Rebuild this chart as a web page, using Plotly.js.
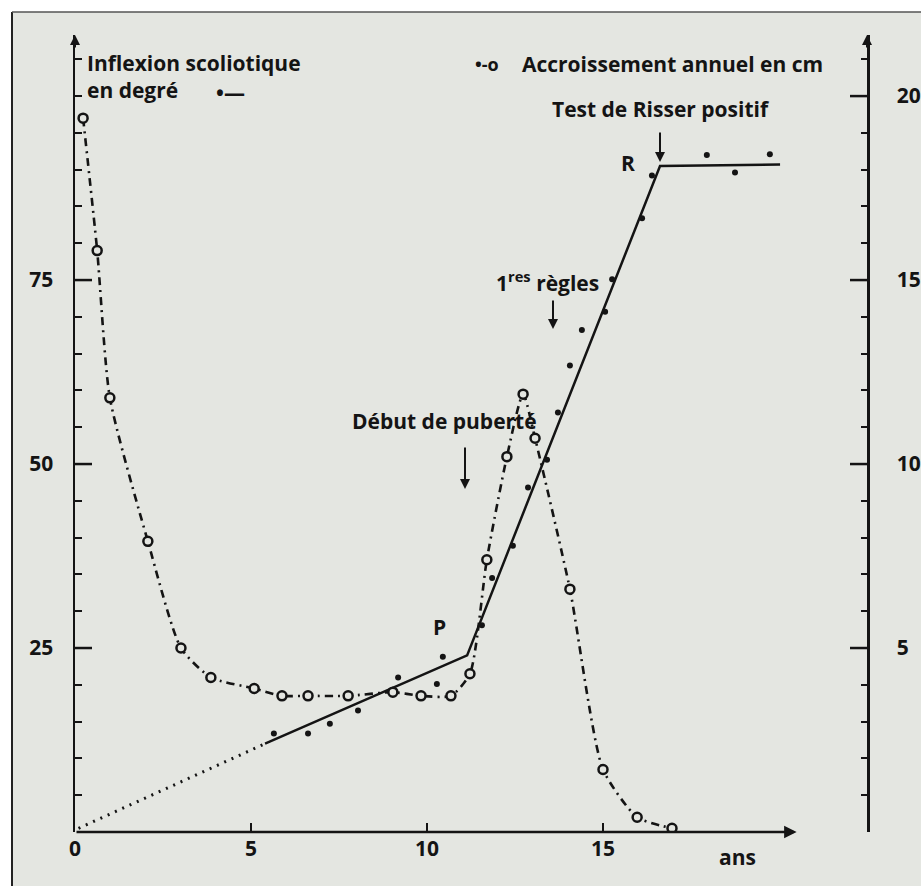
<!DOCTYPE html>
<html>
<head>
<meta charset="utf-8">
<script src="https://cdn.plot.ly/plotly-3.0.1.min.js"></script>
<style>html,body{margin:0;padding:0;background:#fff;}#chart{width:921px;height:886px;}</style>
</head>
<body>
<div id="chart"></div>
<script>
// ---- data ----
// Annual growth (cm/year), right axis
const growthYears = [0.23,0.63,0.99,2.07,3.01,3.86,5.09,5.88,6.62,7.76,9.03,9.83,10.68,11.22,11.70,12.27,12.73,13.07,14.06,15.0,15.97,16.96];
const growthCm    = [19.4,15.8,11.8,7.9,5.0,4.2,3.9,3.7,3.7,3.7,3.8,3.7,3.7,4.3,7.4,10.2,11.9,10.7,6.6,1.7,0.4,0.1];
// Scoliotic curve (degrees), left axis: measured points
const scolYears = [5.65,6.62,7.24,8.04,9.18,10.28,10.45,11.56,11.85,12.44,12.87,13.41,13.72,14.06,14.40,15.06,15.26,16.11,16.39,17.95,18.75,19.74];
const scolDeg   = [13.4,13.4,14.7,16.5,21.0,20.1,23.8,28.1,34.5,38.9,46.8,50.6,57.0,63.4,68.2,70.7,75.1,83.4,89.2,92.0,89.6,92.1];
// Scoliotic trend: extrapolated (dotted) and fitted (solid, P then R)
const trendDottedYears = [0.1, 5.4];
const trendDottedDeg   = [0.5, 12.0];
const trendSolidYears  = [5.4, 11.14, 16.62, 20.03];
const trendSolidDeg    = [12.0, 24.0, 90.5, 90.7];
// tick labels
const xTicks = [0, 5, 10, 15];
const yLeftTicks = [25, 50, 75];
const yRightTicks = [5, 10, 15, 20];

const INK = '#141414';
const BG = '#e4e6e1';
const FONT = {family: 'Open Sans, sans-serif', size: 21, color: INK, weight: 'bold'};

// plot area geometry (pixels)
const W = 921, H = 886, L = 75, R = 54, T = 35, B = 54;
const pw = W - L - R, ph = H - T - B;
const px = v => (v - L) / pw;           // pixel x -> paper x
const py = v => (H - B - v) / ph;       // pixel y -> paper y

const traces = [
  {x: trendDottedYears, y: trendDottedDeg, mode: 'lines', yaxis: 'y',
   line: {color: INK, width: 3, dash: '2px,6px'}, hoverinfo: 'skip'},
  {x: trendSolidYears, y: trendSolidDeg, mode: 'lines', yaxis: 'y',
   line: {color: INK, width: 2.5}, hoverinfo: 'skip'},
  {x: scolYears, y: scolDeg, mode: 'markers', yaxis: 'y',
   marker: {color: INK, size: 6}},
  {x: growthYears, y: growthCm, mode: 'lines+markers', yaxis: 'y2',
   line: {color: INK, width: 2.6, dash: '8px,5px,2px,5px', shape: 'spline', smoothing: 0.6},
   marker: {symbol: 'circle', size: 9, color: BG, line: {color: INK, width: 2.5}}}
];

const annFont = Object.assign({}, FONT);
function txt(text, x, y, xanchor, opts) {
  return Object.assign({text: text, xref: 'paper', yref: 'paper', x: px(x), y: py(y),
    xanchor: xanchor || 'left', yanchor: 'middle', showarrow: false, font: annFont}, opts || {});
}
function downArrow(xp, y0, y1) {
  return {xref: 'paper', yref: 'paper', x: px(xp), y: py(y1), ax: 0, ay: -(y1 - y0),
    showarrow: true, arrowhead: 2, arrowsize: 1, arrowwidth: 2, arrowcolor: INK, text: ''};
}

const annotations = [
  txt('Inflexion scoliotique<br>en degré', 85, 76, 'left', {align: 'left'}),
  txt('•—', 214, 93),
  txt('•-o', 473, 64, 'left', {font: Object.assign({}, FONT, {size: 18})}),
  txt('Accroissement annuel en cm', 520, 64),
  txt('Test de Risser positif', 550, 109),
  downArrow(660, 131, 162),
  txt('R', 628, 163, 'center'),
  txt('1<sup>res</sup> règles', 494, 281),
  downArrow(553, 299, 329),
  txt('Début de puberté', 350, 421),
  downArrow(465, 446, 489),
  txt('P', 439, 627, 'center'),
  txt('ans', 737, 857, 'center'),
  // x axis with arrow head
  {xref: 'x', yref: 'y', axref: 'x', ayref: 'y', x: 20.5, y: 0, ax: 0, ay: 0,
   showarrow: true, arrowhead: 2, arrowsize: 1, arrowwidth: 2.5, arrowcolor: INK, text: ''},
  // y axes top arrows
  {xref: 'paper', yref: 'paper', x: 0, y: 1, ax: 0, ay: 14, showarrow: true,
   arrowhead: 2, arrowsize: 1, arrowwidth: 2, arrowcolor: INK, text: ''},
  {xref: 'paper', yref: 'paper', x: 1, y: 1, ax: 0, ay: 14, showarrow: true,
   arrowhead: 2, arrowsize: 1, arrowwidth: 2, arrowcolor: INK, text: ''}
];

const shapes = [
  // white page margins of the scan
  {type: 'rect', xref: 'paper', yref: 'paper', x0: px(0), x1: px(12), y0: py(H), y1: py(0),
   fillcolor: '#ffffff', line: {width: 0}, layer: 'below'},
  {type: 'rect', xref: 'paper', yref: 'paper', x0: px(0), x1: px(W), y0: py(12), y1: py(0),
   fillcolor: '#ffffff', line: {width: 0}, layer: 'below'},
  {type: 'line', xref: 'paper', yref: 'paper', x0: px(12), x1: px(12), y0: py(H), y1: py(12),
   line: {color: '#222', width: 2}, layer: 'below'},
  {type: 'line', xref: 'paper', yref: 'paper', x0: px(12), x1: px(W), y0: py(12), y1: py(12),
   line: {color: '#555', width: 1.5}, layer: 'below'}
];
// major tick marks (inside), at the tick values
yLeftTicks.forEach(v => shapes.push({type: 'line', xref: 'paper', yref: 'y',
  x0: 0, x1: 17 / pw, y0: v, y1: v, line: {color: INK, width: 2.5}}));
yRightTicks.forEach(v => shapes.push({type: 'line', xref: 'paper', yref: 'y2',
  x0: 1, x1: 1 - 17 / pw, y0: v, y1: v, line: {color: INK, width: 2.5}}));
xTicks.slice(1).forEach(v => shapes.push({type: 'line', xref: 'x', yref: 'paper',
  x0: v, x1: v, y0: 0, y1: 9 / ph, line: {color: INK, width: 2}}));

const tickFont = Object.assign({}, FONT);

const layout = {
  width: W, height: H,
  margin: {l: L, r: R, t: T, b: B, pad: 0},
  paper_bgcolor: BG, plot_bgcolor: 'rgba(0,0,0,0)',
  font: FONT,
  showlegend: false,
  xaxis: {range: [0, 22.5], showline: false, zeroline: false, showgrid: false,
    tickmode: 'array', tickvals: xTicks, ticktext: xTicks.map(String),
    ticks: 'inside', ticklen: 8, tickwidth: 2, tickcolor: INK, tickfont: tickFont,
    ticklabelstandoff: 2},
  yaxis: {range: [0, 108.3], showline: true, linewidth: 2.5, linecolor: INK,
    zeroline: false, showgrid: false,
    tickmode: 'array', tickvals: yLeftTicks, ticktext: yLeftTicks.map(String),
    ticks: 'inside', ticklen: 17, tickwidth: 2.5, tickcolor: INK, tickfont: tickFont,
    ticklabelstandoff: 15,
    minor: {dtick: 5, tick0: 0, ticks: 'inside', ticklen: 7, tickwidth: 2, tickcolor: INK}},
  yaxis2: {range: [0, 21.66], overlaying: 'y', side: 'right', anchor: 'x',
    showline: true, linewidth: 2.5, linecolor: INK, zeroline: false, showgrid: false,
    tickmode: 'array', tickvals: yRightTicks, ticktext: yRightTicks.map(String),
    ticks: 'inside', ticklen: 17, tickwidth: 2.5, tickcolor: INK, tickfont: tickFont,
    ticklabelstandoff: 23,
    minor: {dtick: 1, tick0: 0, ticks: 'inside', ticklen: 6, tickwidth: 2, tickcolor: INK}},
  annotations: annotations,
  shapes: shapes
};

Plotly.newPlot('chart', traces, layout, {staticPlot: true, displayModeBar: false});
</script>
</body>
</html>
